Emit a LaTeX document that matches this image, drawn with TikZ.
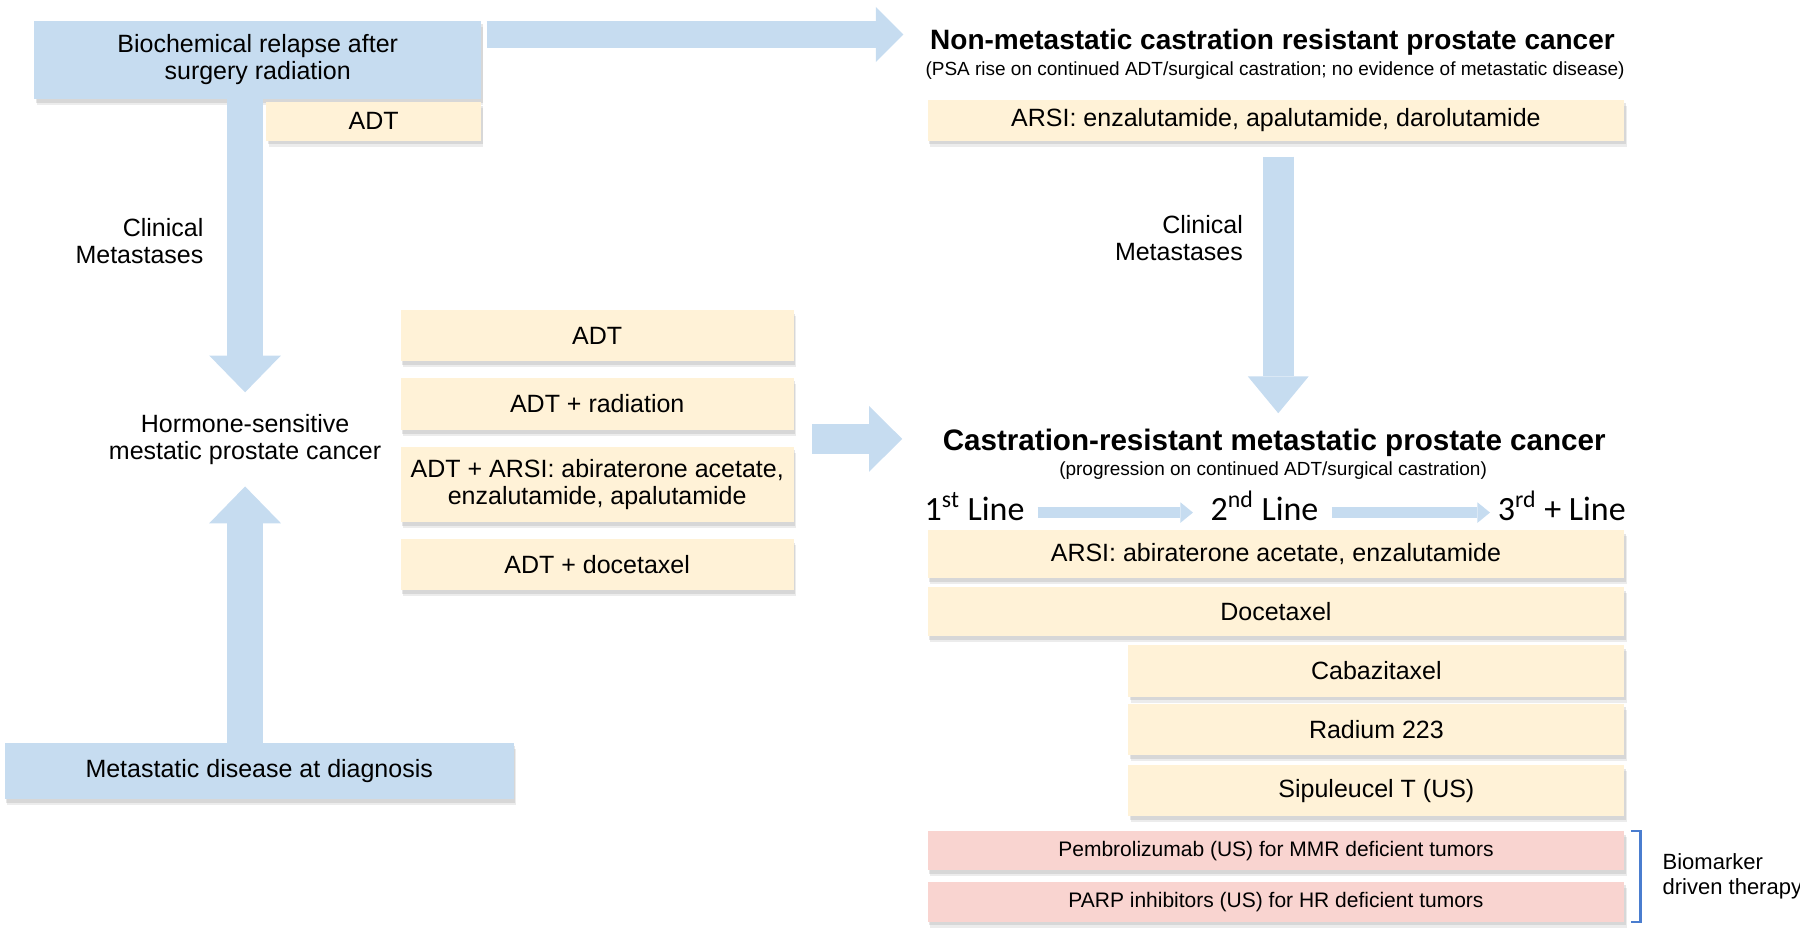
\documentclass[tikz,border=0pt]{standalone}
\usepackage{fontspec}
\setmainfont{Liberation Sans}
\newfontfamily\carlito{Carlito}
\usetikzlibrary{arrows.meta,calc,shadows}
\definecolor{flowblue}{HTML}{C6DCF0}
\definecolor{drugyellow}{HTML}{FFF2D7}
\definecolor{markerpink}{HTML}{F9D4D0}
\definecolor{bracketblue}{HTML}{4A7DCF}
\newcommand{\px}[0]{0.574pt}
\newcommand{\boxFont}[0]{\fontsize{12.5}{13.5}\selectfont}

\begin{document}
\begin{tikzpicture}[x=\px, y=-\px]
  \tikzset{
    dims/.style 2 args={minimum width=#1*\px, minimum height=#2*\px},
    box/.style={inner sep=0pt, outer sep=0pt, align=center, font=\boxFont,
      drop shadow={shadow xshift=1.2pt, shadow yshift=-3pt, opacity=0.15},
      drop shadow={shadow xshift=0.8pt, shadow yshift=-1.8pt, opacity=0.2}},
    stage/.style={box, fill=flowblue},
    drug/.style={box, fill=drugyellow},
    marker/.style={box, fill=markerpink, font=\fontsize{10.5}{12}\selectfont},
    plain/.style={inner sep=0pt, align=center, font=\boxFont},
    heading/.style={inner sep=0pt, anchor=base, font=\bfseries\fontsize{14}{16}\selectfont},
    subheading/.style={inner sep=0pt, anchor=base, font=\fontsize{9.5}{11}\selectfont},
    linelabel/.style={inner sep=0pt, anchor=base, font=\carlito\fontsize{17}{19}\selectfont},
    bigarrow/.style n args={3}{draw=flowblue, line width=#1,
      -{Triangle[width=#2, length=#3, line width=0pt]}}
  }
  \useasboundingbox (0,0) rectangle (1568,817);

  \node[stage, dims={389}{68.5}] (relapse) at (224.5,52.25) {Biochemical relapse after\\surgery radiation};
  \node[drug, dims={187}{33.5}] (adt-0) at (325.5,105.75) {ADT};
  \node[plain, align=right, anchor=east] (clin-1) at (177.5,210) {Clinical\\Metastases};
  \node[plain] (hs) at (213.5,383) {Hormone-sensitive\\mestatic prostate cancer};
  \node[stage, dims={443.6}{49}] (meta) at (225.8,671.5) {Metastatic disease at diagnosis};

  \node[drug, dims={342.5}{44.5}] (m-1) at (520.25,292.25) {ADT};
  \node[drug, dims={342.5}{45.6}] (m-2) at (520.25,351.8) {ADT + radiation};
  \node[drug, dims={342.5}{66}] (m-3) at (520.25,422) {ADT + ARSI: abiraterone acetate,\\enzalutamide, apalutamide};
  \node[drug, dims={342.5}{44.5}] (m-4) at (520.25,491.75) {ADT + docetaxel};

  \node[heading] (nm) at (1108.5,43) {Non-metastatic castration resistant prostate cancer};
  \node[subheading] (nm-sub) at (1110.7,66) {(PSA rise on continued ADT/surgical castration; no evidence of metastatic disease)};
  \node[drug, dims={607}{35.5}] (arsi-0) at (1111.5,104.75) {ARSI: enzalutamide, apalutamide, darolutamide};
  \node[plain, align=right, anchor=east] (clin-2) at (1083,207) {Clinical\\Metastases};

  \node[heading, font=\bfseries\fontsize{14.8}{16}\selectfont] (crpc) at (1110,392) {Castration-resistant metastatic prostate cancer};
  \node[subheading] (crpc-sub) at (1109,414.6) {(progression on continued ADT/surgical castration)};
  \node[linelabel] (line-1) at (849,453) {1\textsuperscript{st} Line};
  \node[linelabel] (line-2) at (1101.5,453) {2\textsuperscript{nd} Line};
  \node[linelabel] (line-3) at (1360.5,453) {3\textsuperscript{rd} + Line};

  \node[drug, dims={607}{42.1}] (c-1) at (1111.5,482.65) {ARSI: abiraterone acetate, enzalutamide};
  \node[drug, dims={607}{42.4}] (c-2) at (1111.5,532.8) {Docetaxel};
  \node[drug, dims={432}{45}] (c-3) at (1199,584.5) {Cabazitaxel};
  \node[drug, dims={432}{45}] (c-4) at (1199,635.5) {Radium 223};
  \node[drug, dims={432}{44.5}] (c-5) at (1199,688.75) {Sipuleucel T (US)};
  \node[marker, dims={607}{34}] (p-1) at (1111.5,741) {Pembrolizumab (US) for MMR deficient tumors};
  \node[marker, dims={607}{35}] (p-2) at (1111.5,785.5) {PARP inhibitors (US) for HR deficient tumors};
  \node[plain, align=left, anchor=west, font=\fontsize{11}{12.5}\selectfont] (bio) at (1448,763) {Biomarker\\driven therapy};

  \draw[bigarrow={13.8pt}{27.6pt}{13.8pt}] ($(relapse.north east)+(5,12)$) coordinate (top-a) -- ($(top-a -| nm.west)+(-23,0)$);
  \draw[bigarrow={18.1pt}{35.9pt}{18.4pt}] (hs |- relapse.south) -- ($(hs.north)+(0,-19)$);
  \draw[bigarrow={18.1pt}{35.9pt}{18.4pt}] (hs |- meta.north) -- ($(hs.south)+(0,18.5)$);
  \draw[bigarrow={14.9pt}{33pt}{16.6pt}] ($(m-2.east |- crpc.west)+(16,-3)$) -- ($(crpc.west)+(-35,-3)$);
  \draw[bigarrow={15.5pt}{30.4pt}{18.4pt}] ($(arsi-0.south)+(2,14)$) coordinate (r-a) -- ($(r-a |- crpc.north)+(0,-13)$);
  \draw[bigarrow={5.2pt}{10.3pt}{6.3pt}] ($(line-1.base east)+(11,-6.5)$) -- ($(line-2.base west)+(-15,-6.5)$);
  \draw[bigarrow={5.2pt}{10.3pt}{6.3pt}] ($(line-2.base east)+(11.5,-6.5)$) -- ($(line-3.base west)+(-6.5,-6.5)$);
  \draw[bracketblue, line width=1.2pt] ($(p-1.north east)+(6,0)$) -- ++(8,0) |- ($(p-2.south east)+(6,0)$);
\end{tikzpicture}
\end{document}
